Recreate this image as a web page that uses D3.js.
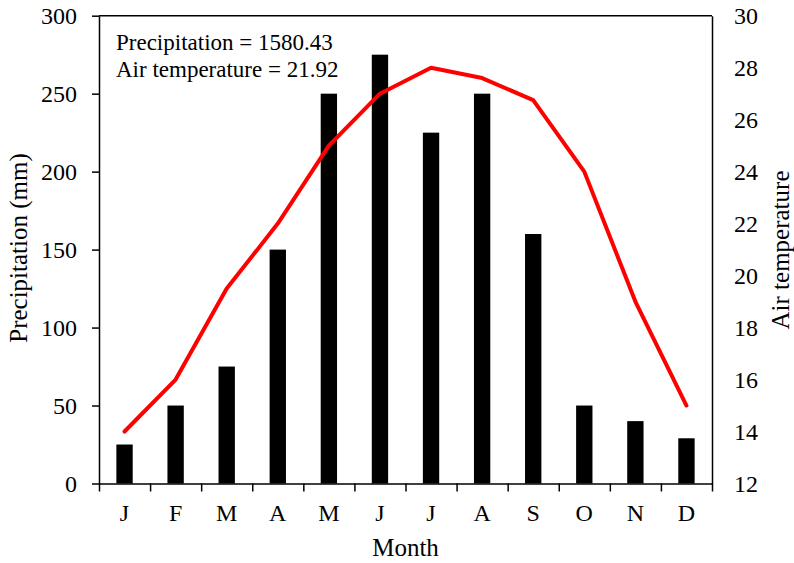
<!DOCTYPE html>
<html>
<head>
<meta charset="utf-8">
<script src="https://cdn.jsdelivr.net/npm/d3@7"></script>
<style>
  body { margin: 0; background: #fff; }
  text { font-family: "Liberation Serif", "Times New Roman", serif; fill: #000; }
  .domain { stroke: #000; stroke-width: 1.5px; }
  .tick line { stroke: #000; stroke-width: 1.5px; }
</style>
</head>
<body>
<div id="chart-area"></div>
<script>
// --- Data ---
var months = ["J", "F", "M", "A", "M", "J", "J", "A", "S", "O", "N", "D"];
var precipitation = [25, 50, 75, 150, 250, 275, 225, 250, 160, 50, 40, 29];
var airTemperature = [14, 16, 19.5, 22, 25, 27, 28, 27.6, 26.75, 24, 19, 15];
var precipTicks = [0, 50, 100, 150, 200, 250, 300];
var tempTicks = [12, 14, 16, 18, 20, 22, 24, 26, 28, 30];

// --- Setup the canvas ---
var canvasWidth = 794;
var canvasHeight = 563;
var canvas = d3.select("#chart-area").append("svg")
	.attr("width", canvasWidth)
	.attr("height", canvasHeight);

var margins = {top: 15.7, bottom: 79.5, left: 99, right: 82};
var graphWidth = canvasWidth - margins.left - margins.right;
var graphHeight = canvasHeight - margins.top - margins.bottom;
var graph = canvas.append("g")
	.attr("transform", "translate(" + margins.left + ", " + margins.top + ")");

var tickFontSize = 24;
var titleFontSize = 25;

// --- Scales ---
var idx = d3.range(months.length);
var xScale = d3.scaleBand()
	.domain(idx)
	.range([0, graphWidth]);
var xEdges = d3.scaleLinear()
	.domain([0, months.length])
	.range([0, graphWidth]);
var yLeft = d3.scaleLinear()
	.domain([0, 300])
	.range([graphHeight, 0]);
var yRight = d3.scaleLinear()
	.domain([12, 30])
	.range([graphHeight, 0]);

// --- Bars ---
var barWidth = xScale.bandwidth() * 0.32;
graph.selectAll("rect.bar")
	.data(precipitation)
	.enter()
	.append("rect")
		.attr("class", "bar")
		.attr("x", (d, i) => xScale(i) + (xScale.bandwidth() - barWidth) / 2)
		.attr("y", (d) => yLeft(d))
		.attr("width", barWidth)
		.attr("height", (d) => graphHeight - yLeft(d))
		.attr("fill", "#000");

// --- Temperature line ---
var line = d3.line()
	.x((d, i) => xScale(i) + xScale.bandwidth() / 2)
	.y((d) => yRight(d));
graph.append("path")
	.datum(airTemperature)
	.attr("d", line)
	.attr("fill", "none")
	.attr("stroke", "#ff0000")
	.attr("stroke-width", 4)
	.attr("stroke-linecap", "round")
	.attr("stroke-linejoin", "round");

// --- Axes ---
// top frame
graph.append("line")
	.attr("x1", 0).attr("x2", graphWidth)
	.attr("y1", 0).attr("y2", 0)
	.attr("stroke", "#000")
	.attr("stroke-width", 1.5);

// x tick marks between months
graph.append("g")
	.attr("transform", "translate(0," + graphHeight + ")")
	.call(d3.axisBottom(xEdges).ticks(12).tickSize(8).tickSizeOuter(0).tickFormat(""));

// x labels
var xLabels = graph.append("g")
	.attr("transform", "translate(0," + graphHeight + ")")
	.call(d3.axisBottom(xScale).tickSize(0).tickFormat((i) => months[i]));
xLabels.select(".domain").remove();
xLabels.selectAll("text")
	.attr("font-size", tickFontSize + "px")
	.attr("y", 0)
	.attr("dy", "37px");

// left axis
var leftAxis = graph.append("g")
	.call(d3.axisLeft(yLeft).tickValues(precipTicks).tickSize(7).tickSizeOuter(0).tickPadding(15));
leftAxis.selectAll("text").attr("font-size", tickFontSize + "px");

// right axis
var rightAxis = graph.append("g")
	.attr("transform", "translate(" + graphWidth + ",0)")
	.call(d3.axisRight(yRight).tickValues(tempTicks).tickSize(0).tickSizeOuter(0).tickPadding(22));
rightAxis.selectAll("text").attr("font-size", tickFontSize + "px");

// --- Labels ---
canvas.append("text")
	.text("Month")
	.attr("x", margins.left + graphWidth / 2)
	.attr("y", 556)
	.attr("text-anchor", "middle")
	.attr("font-size", titleFontSize + "px");

canvas.append("text")
	.text("Precipitation (mm)")
	.attr("transform", "translate(27, 248) rotate(-90)")
	.attr("text-anchor", "middle")
	.attr("font-size", titleFontSize + "px");

canvas.append("text")
	.text("Air temperature")
	.attr("transform", "translate(789, 250) rotate(-90)")
	.attr("text-anchor", "middle")
	.attr("font-size", titleFontSize + "px");

// --- Annotation ---
var notes = ["Precipitation = 1580.43", "Air temperature = 21.92"];
canvas.selectAll("text.note")
	.data(notes)
	.enter()
	.append("text")
		.attr("class", "note")
		.attr("x", 116)
		.attr("y", (d, i) => 49.5 + i * 27.3)
		.attr("font-size", "23px")
		.text((d) => d);
</script>
</body>
</html>
